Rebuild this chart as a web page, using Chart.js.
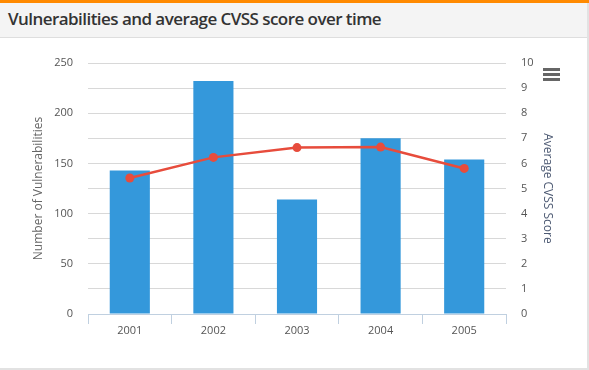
<!DOCTYPE html>
<html>
<head>
<meta charset="utf-8">
<script src="https://cdn.jsdelivr.net/npm/chart.js@4/dist/chart.umd.min.js"></script>
<style>
  html, body { margin: 0; padding: 0; background: #fff; }
  body { width: 589px; height: 370px; position: relative; overflow: hidden; font-family: "Open Sans", sans-serif; }
  #panel { position: absolute; left: 0; top: 0; width: 587px; height: 368px; border-right: 2px solid #e2e2e2; border-bottom: 2px solid #e2e2e2; box-sizing: content-box; }
  #topbar { position: absolute; left: 0; top: 0; width: 589px; height: 3px; background: #ff8a00; }
  #header { position: absolute; left: 0; top: 3px; width: 587px; height: 34px; background: #f4f4f4; border-bottom: 1px solid #dedede; }
  #header h1 { margin: 0; position: absolute; left: 8px; top: 4px; font-size: 17px; font-weight: 600; letter-spacing: -0.55px; color: #333; font-family: "Open Sans", sans-serif; white-space: nowrap; }
  #wrap { position: absolute; left: 0; top: 38px; width: 587px; height: 330px; }
  #menu { position: absolute; left: 543px; top: 68px; width: 17px; }
  #menu div { height: 2.5px; background: #666; margin-bottom: 2.5px; }
</style>
</head>
<body>
<div id="panel"></div>
<div id="topbar"></div>
<div id="header"><h1>Vulnerabilities and average CVSS score over time</h1></div>
<div id="wrap"><canvas id="c" width="587" height="330"></canvas></div>
<div id="menu"><div></div><div></div><div></div></div>
<script>
const categories = ["2001", "2002", "2003", "2004", "2005"];
const vulnerabilities = [143, 232, 114, 175, 154];
const avgCvss = [5.42, 6.24, 6.63, 6.65, 5.80];

const tickFont = { family: "Open Sans", size: 11 };

new Chart(document.getElementById('c'), {
  data: {
    labels: categories,
    datasets: [
      {
        type: 'line',
        label: 'Average CVSS Score',
        data: avgCvss,
        yAxisID: 'y1',
        borderColor: '#e74c3c',
        backgroundColor: '#e74c3c',
        borderWidth: 2.5,
        pointRadius: 4.5,
        pointHoverRadius: 4.5,
        pointBackgroundColor: '#e74c3c',
        pointBorderWidth: 0,
        tension: 0,
        order: 0
      },
      {
        type: 'bar',
        label: 'Number of Vulnerabilities',
        data: vulnerabilities,
        yAxisID: 'y',
        backgroundColor: '#3498db',
        borderWidth: 0,
        barPercentage: 0.48,
        categoryPercentage: 1.0,
        order: 1
      }
    ]
  },
  options: {
    responsive: false,
    animation: false,
    layout: { padding: { top: 25, bottom: 0, left: 0, right: 0 } },
    plugins: { legend: { display: false }, tooltip: { enabled: false } },
    scales: {
      x: {
        offset: true,
        grid: { display: true, drawOnChartArea: false, drawTicks: true, tickLength: 10, color: '#c0d0e0', offset: true },
        border: { display: true, color: '#c0d0e0', width: 1 },
        ticks: { font: tickFont, color: '#555', padding: 0 },
        afterFit: (s) => { s.height = 54; }
      },
      y: {
        position: 'left',
        min: 0, max: 250,
        grid: { color: '#d8d8d8', drawTicks: false, lineWidth: 1 },
        border: { display: false },
        ticks: { stepSize: 25, font: tickFont, color: '#555', padding: 15,
          callback: (v) => (v % 50 === 0 ? String(v) : '') },
        title: { display: true, text: 'Number of Vulnerabilities', color: '#666', font: { family: "Open Sans", size: 12 }, padding: { top: 31, bottom: 0 } },
        afterFit: (s) => { s.width = 88; }
      },
      y1: {
        position: 'right',
        min: 0, max: 10,
        grid: { display: false, drawTicks: false },
        border: { display: false },
        ticks: { stepSize: 1, font: tickFont, color: '#555', padding: 15 },
        title: { display: true, text: 'Average CVSS Score', color: '#4d5a73', font: { family: "Open Sans", size: 12 }, padding: { top: 32, bottom: 0 } },
        afterFit: (s) => { s.width = 81; }
      }
    }
  }
});
</script>
</body>
</html>
